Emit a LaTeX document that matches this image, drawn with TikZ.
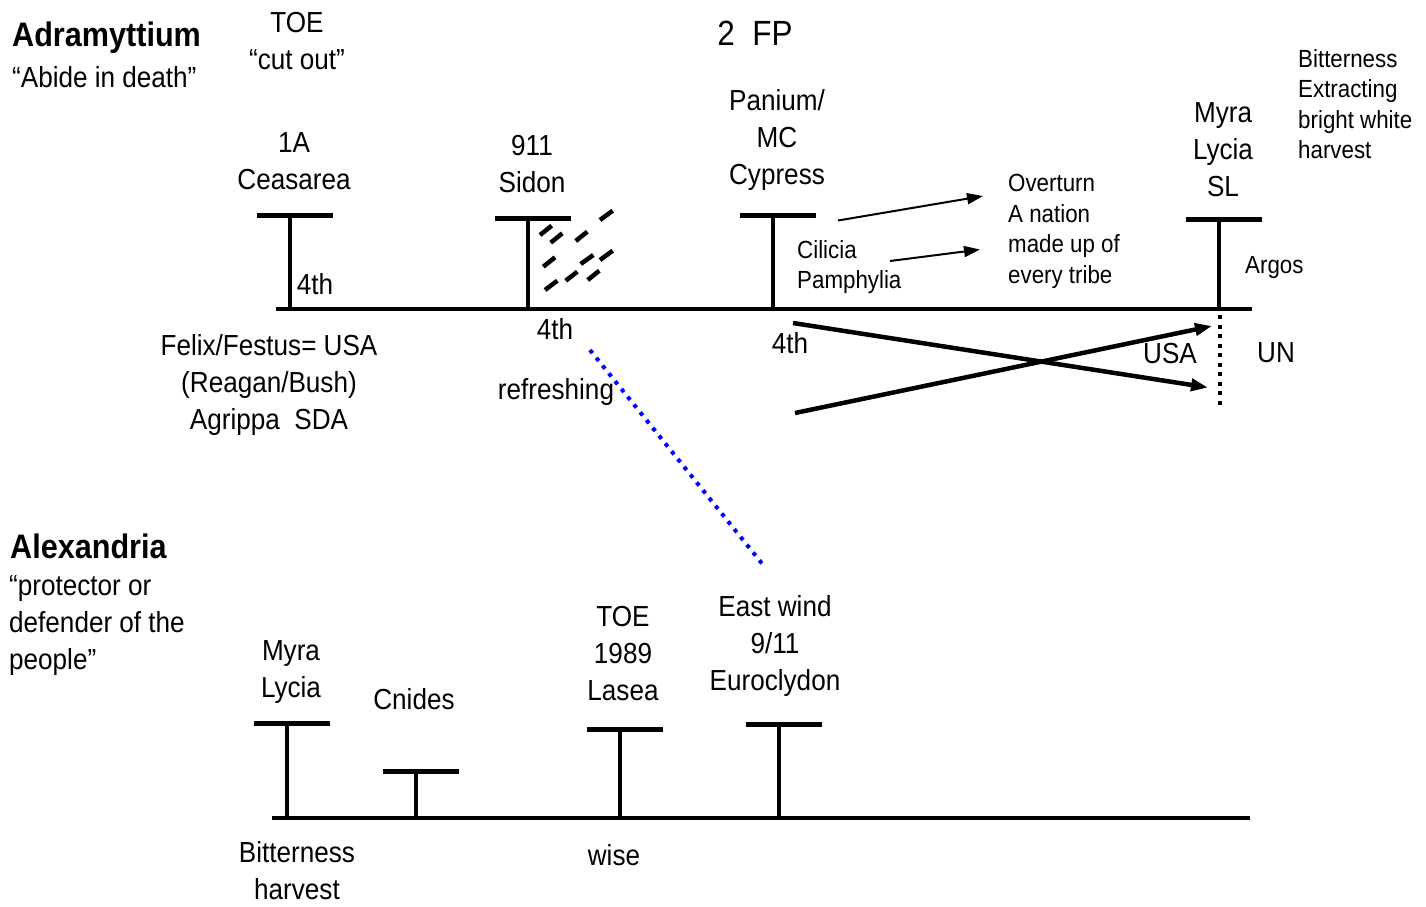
\documentclass[tikz,border=0pt]{standalone}
\usepackage{fontspec}
\setmainfont{Liberation Sans}[FakeStretch=0.9]
\usetikzlibrary{arrows.meta}

\tikzset{
  axis/.style={line width=4.5pt},
  tee/.pic={
    \draw[line width=5pt] (-33,0) -- (43,0);
    \draw[line width=4.5pt] (0,2) -- (0,#1);
  },
  big/.style={font=\fontsize{29}{37}\selectfont, align=center, inner sep=0pt},
  bigleft/.style={big, align=left, anchor=west},
  small/.style={font=\fontsize{24.8}{30.5}\selectfont, align=left, inner sep=0pt, anchor=west},
  heading/.style={font=\bfseries\fontsize{34}{40}\selectfont, inner sep=0pt, anchor=west},
  pointer/.style={line width=2pt, -{Triangle[length=16pt,width=11pt]}},
  swap/.style={line width=4.5pt, -{Triangle[length=17pt,width=12pt]}},
  hatch/.style={line width=4.5pt},
  limit/.style={line width=3.5pt, dash pattern=on 4pt off 5.5pt},
  link/.style={line width=4pt, blue, dash pattern=on 4pt off 6pt},
}

\begin{document}
\begin{tikzpicture}[x=1pt, y=-1pt]
\useasboundingbox (0,0) rectangle (1426,906);

% ---------- upper voyage ----------
\coordinate (topL) at (276,309);
\coordinate (topR) at (1252,309);
\draw[axis] (topL) -- (topR);
\pic at (290,215) {tee=94};
\pic at (528,218) {tee=91};
\pic at (773,215) {tee=94};
\pic at (1219,219) {tee=90};

% hatching beside Sidon
\draw[hatch] (540,235) -- (551.7,225.7);
\draw[hatch] (550.7,242.7) -- (562.3,233.3);
\draw[hatch] (575.7,241) -- (587.3,231.7);
\draw[hatch] (600,220) -- (612.7,210.7);
\draw[hatch] (543.3,266.7) -- (555,257.3);
\draw[hatch] (580.7,264) -- (593.3,255);
\draw[hatch] (600,260) -- (612.7,250.7);
\draw[hatch] (545,290) -- (557.3,280.7);
\draw[hatch] (565.7,280.7) -- (577.3,271.7);
\draw[hatch] (587.7,280) -- (599.3,270.7);

\node[heading] (adra) at (12,38) {Adramyttium};
\node[bigleft] (abide) at (12,77) {“Abide in death”};
\node[big] (toe) at (297,41) {TOE\\“cut out”};
\node[font=\fontsize{35}{40}\selectfont, inner sep=0pt] (fp) at (755,33) {2\ \ FP};

\node[big] (ceas) at (294,161) {1A\\Ceasarea};
\node[big] (sidon) at (532,164) {911\\Sidon};
\node[big] (panium) at (777,140) {Panium/\\MC\\Cypress};
\node[big] (myra) at (1223,150) {Myra\\Lycia\\SL};
\node[small] (bitter) at (1298,104) {Bitterness\\Extracting\\bright white\\harvest};
\node[small] (nation) at (1008,231.5) {Overturn\\A nation\\made up of\\every tribe};
\node[small] (cilicia) at (797,267) {Cilicia\\Pamphylia};
\node[small] (argos) at (1245,268) {Argos};

\node[big] (fourA) at (315,284) {4th};
\node[big] (fourB) at (555,329) {4th};
\node[big] (fourC) at (790,343) {4th};
\node[big] (felix) at (269,385) {Felix/Festus= USA\\(Reagan/Bush)\\Agrippa\ \ SDA};
\node[big] (refresh) at (556,392) {refreshing};
\node[big] (usa) at (1170,354) {USA};
\node[big] (un) at (1276,353) {UN};

% pointers to the nation
\coordinate (pA) at (838,220.5);
\coordinate (pAt) at (983,196);
\coordinate (pB) at (890,261);
\coordinate (pBt) at (980,249.5);
\draw[pointer] (pA) -- (pAt);
\draw[pointer] (pB) -- (pBt);

% crossing arrows and the dotted limit
\coordinate (xA) at (793,323);
\coordinate (xAt) at (1208,387.5);
\coordinate (xB) at (795,413);
\coordinate (xBt) at (1212,326);
\draw[swap] (xA) -- (xAt);
\draw[swap] (xB) -- (xBt);
\coordinate (limT) at (1220,315);
\coordinate (limB) at (1220,405);
\draw[limit] (limT) -- (limB);

% link between the two voyages
\coordinate (lkA) at (590,350);
\coordinate (lkB) at (764,566);
\draw[link] (lkA) -- (lkB);

% ---------- lower voyage ----------
\coordinate (botL) at (272,818);
\coordinate (botR) at (1250,818);
\draw[axis] (botL) -- (botR);
\pic at (287,723) {tee=95};
\pic at (416,771) {tee=47};
\pic at (620,729) {tee=89};
\pic at (779,724) {tee=94};

\node[heading] (alex) at (10,546) {Alexandria};
\node[bigleft] (protect) at (9,626) {“protector or\\defender of the\\people”};
\node[big] (myra2) at (291,672) {Myra\\Lycia};
\node[big] (cnides) at (414,699) {Cnides};
\node[big] (lasea) at (623,654) {TOE\\1989\\Lasea};
\node[big] (wind) at (775,646) {East wind\\9/11\\Euroclydon};
\node[big] (bitter2) at (297,871) {Bitterness\\harvest};
\node[big] (wise) at (614,855) {wise};
\end{tikzpicture}
\end{document}
